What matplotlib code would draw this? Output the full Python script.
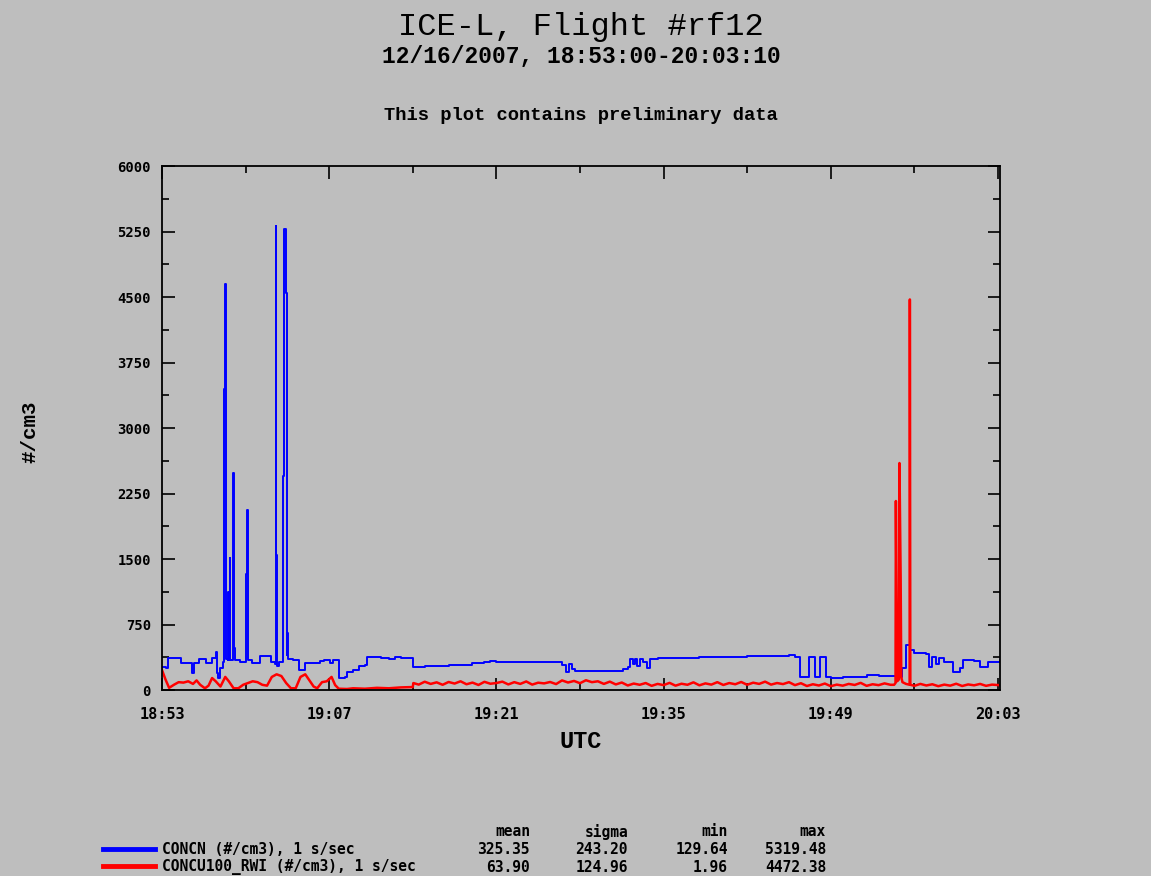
import numpy as np
import matplotlib
matplotlib.use('Agg')
import matplotlib.pyplot as plt
from matplotlib.lines import Line2D
from matplotlib.ticker import MultipleLocator

# minutes after 18:53:00 and concentration (#/cm3)
concn_t = [0.0, 0.3, 0.5, 1.5, 1.6, 2.4, 2.5, 2.7, 3.0, 3.1, 3.6, 3.7, 4.1, 4.2, 4.5, 4.55,
           4.6, 4.7, 4.9, 5.1, 5.2, 5.23, 5.30, 5.36, 5.5, 5.55, 5.6, 5.67, 5.72, 5.95, 5.97,
           6.02, 6.08, 6.5, 7.0, 7.04, 7.14, 7.2, 7.5, 8.0, 8.2, 8.9, 9.1, 9.5, 9.52, 9.57,
           9.63, 9.8, 10.1, 10.16, 10.25, 10.36, 10.45, 10.5, 10.55, 11.0, 11.4, 11.5, 11.9,
           12.0, 13.0, 13.2, 13.6, 14.1, 14.3, 14.6, 14.8, 15.3, 15.5, 16.0, 16.5, 17.0, 17.2,
           18.0, 18.3, 19.0, 19.5, 20.0, 20.8, 21.0, 22.0, 23.0, 24.0, 25.0, 26.0, 27.0, 27.5,
           28.0, 29.0, 30.0, 31.0, 32.0, 33.0, 33.5, 33.8, 34.1, 34.3, 34.6, 36.0, 37.0, 38.0,
           38.6, 39.0, 39.2, 39.4, 39.6, 39.8, 40.0, 40.3, 40.6, 40.9, 41.5, 43.0, 45.0, 47.0,
           49.0, 51.0, 52.5, 53.0, 53.4, 54.0, 54.2, 54.6, 54.7, 55.0, 55.1, 55.4, 55.6, 56.0,
           57.0, 58.0, 59.0, 60.0, 61.5, 62.0, 62.3, 62.6, 63.0, 64.0, 64.2, 64.5, 64.8, 65.1,
           65.5, 66.0, 66.2, 66.8, 67.1, 68.0, 68.5, 69.2, 70.17]
concn_v = [260, 250, 366, 366, 310, 310, 200, 310, 310, 350, 350, 310, 310, 366, 366, 435,
           200, 137, 250, 320, 340, 3450, 4650, 350, 340, 1122, 340, 1511, 340, 360, 2485,
           480, 340, 320, 340, 1328, 2061, 340, 310, 310, 390, 390, 320, 300, 5313, 1546,
           280, 320, 320, 2450, 5278, 4545, 400, 650, 360, 340, 340, 230, 230,
           310, 310, 330, 340, 310, 343, 343, 137, 150, 206, 230, 270, 290, 378,
           378, 366, 360, 378, 366, 366, 263, 270, 275, 286, 290, 309, 320, 332,
           320, 325, 320, 325, 320, 320, 290, 206, 300, 240, 218, 218, 214, 218,
           245, 260, 350, 300, 360, 280, 350, 320, 250, 360, 366, 366, 378, 380,
           385, 390, 400, 380, 150, 150, 378, 378, 150, 150, 378, 378, 150, 137,
           150, 150, 170, 160, 150, 250, 515, 460, 423, 410, 260, 380, 300, 370,
           320, 320, 206, 250, 343, 330, 263, 320, 343]

rwi_t = [0.0, 0.3, 0.6, 1.0, 1.4, 1.8, 2.2, 2.6, 2.9, 3.2, 3.6, 3.9, 4.2, 4.5, 4.9, 5.3,
         5.6, 6.0, 6.4, 6.8, 7.2, 7.6, 8.0, 8.4, 8.8, 9.2, 9.6, 10.0, 10.4, 10.8, 11.2, 11.6,
         12.0, 12.3, 12.7, 13.0, 13.4, 13.8, 14.2, 14.5, 14.8, 15.5, 16.0, 17.0, 18.0, 19.0,
         20.0, 21.0, 21.05, 21.5, 22.0, 22.5, 23.0, 23.5, 24.0, 24.5, 25.0, 25.5, 26.0, 26.5,
         27.0, 27.5, 28.0, 28.5, 29.0, 29.5, 30.0, 30.5, 31.0, 31.5, 32.0, 32.5, 33.0, 33.5,
         34.0, 34.5, 35.0, 35.5, 36.0, 36.5, 37.0, 37.5, 38.0, 38.5, 39.0, 39.5, 40.0, 40.5,
         41.0, 41.5, 42.0, 42.5, 43.0, 43.5, 44.0, 44.5, 45.0, 45.5, 46.0, 46.5, 47.0, 47.5,
         48.0, 48.5, 49.0, 49.5, 50.0, 50.5, 51.0, 51.5, 52.0, 52.5, 53.0, 53.5, 54.0, 54.5,
         55.0, 55.5, 56.0, 56.5, 57.0, 57.5, 58.0, 58.5, 59.0, 59.5, 60.0, 60.5, 61.0, 61.3,
         61.42, 61.45, 61.5, 61.55, 61.7, 61.75, 61.8, 61.85, 61.9, 62.0, 62.3, 62.6, 62.62,
         62.66, 63.0, 63.5, 64.0, 64.5, 65.0, 65.5, 66.0, 66.5, 67.0, 67.5, 68.0, 68.5, 69.0,
         69.5, 70.17]
rwi_v = [230, 120, 25, 60, 90, 85, 100, 70, 110, 60, 20, 50, 137, 100, 40, 150,
         100, 20, 20, 60, 80, 100, 90, 60, 50, 150, 180, 160, 80, 20, 20, 150,
         180, 120, 40, 20, 90, 100, 150, 57, 15, 12, 20, 15, 25, 20,
         30, 34, 80, 62, 95, 70, 88, 60, 92, 74, 100, 66, 85, 58,
         94, 72, 80, 96, 64, 90, 70, 98, 62, 84, 76, 92, 68, 110,
         86, 104, 78, 112, 90, 100, 70, 96, 64, 86, 52, 74, 60, 80,
         48, 70, 56, 82, 50, 72, 60, 88, 54, 76, 62, 90, 58, 80,
         66, 92, 60, 84, 70, 96, 62, 80, 68, 90, 56, 78, 46, 66,
         52, 74, 44, 62, 50, 70, 58, 82, 48, 66, 56, 76, 60, 60,
         80, 2164, 1168, 100, 120, 2599, 1958, 1271, 150, 90, 70, 60, 4472,
         60, 48, 70, 52, 66, 44, 62, 50, 72, 46, 64, 54, 70, 48,
         62, 55]

x_ticks = [0, 14, 28, 42, 56, 70]
x_labels = ['18:53', '19:07', '19:21', '19:35', '19:49', '20:03']

names = ['CONCN (#/cm3), 1 s/sec', 'CONCU100_RWI (#/cm3), 1 s/sec']
stat_cols = ['mean', 'sigma', 'min', 'max']
stats = [['325.35', '243.20', '129.64', '5319.48'],
         ['63.90', '124.96', '1.96', '4472.38']]

bg = '#bebebe'
mono = 'Liberation Mono'
tick_font = 'DejaVu Sans Mono'

fig = plt.figure(figsize=(11.51, 8.76), dpi=100, facecolor=bg)
ax = fig.add_axes([0.1407, 0.2123, 0.7281, 0.5982], facecolor=bg)

ax.plot(concn_t, concn_v, color='#0000ff', lw=1.4, drawstyle='steps-post')
ax.plot(rwi_t, rwi_v, color='#ff0000', lw=1.8)

ax.set_xlim(0, 70.1667)
ax.set_ylim(0, 6000)
ax.set_xticks(x_ticks)
ax.set_xticklabels(x_labels)
ax.xaxis.set_minor_locator(MultipleLocator(7))
ax.yaxis.set_major_locator(MultipleLocator(750))
ax.yaxis.set_minor_locator(MultipleLocator(375))
ax.tick_params(which='both', direction='in', top=True, right=True, width=1.2, colors='black')
ax.tick_params(which='major', length=9)
ax.tick_params(which='minor', length=5)
ax.tick_params(axis='x', pad=12)
ax.tick_params(axis='y', pad=8)
for lab in ax.get_xticklabels():
    lab.set_fontfamily(tick_font)
    lab.set_fontweight('bold')
    lab.set_fontsize(11)
for lab in ax.get_yticklabels():
    lab.set_fontfamily(tick_font)
    lab.set_fontweight('bold')
    lab.set_fontsize(10)
for s in ax.spines.values():
    s.set_linewidth(1.3)

ax.set_xlabel('UTC', fontfamily=mono, fontweight='bold', fontsize=17, labelpad=6)
fig.text(0.026, 0.507, '#/cm3', rotation=90, ha='center', va='center',
         fontfamily=mono, fontweight='bold', fontsize=15)

fig.text(0.505, 0.969, 'ICE-L, Flight #rf12', ha='center', va='center',
         fontfamily=mono, fontsize=23)
fig.text(0.505, 0.936, '12/16/2007, 18:53:00-20:03:10', ha='center', va='center',
         fontfamily=mono, fontweight='bold', fontsize=16.5)
fig.text(0.505, 0.868, 'This plot contains preliminary data', ha='center', va='center',
         fontfamily=mono, fontweight='bold', fontsize=13.5)

# stats table under the plot
col_x = [530, 628, 728, 826]
row_y = [849, 866]
for cx, name in zip(col_x, stat_cols):
    fig.text(cx / 1151, 1 - 832 / 876, name, ha='right', va='center',
             fontfamily=tick_font, fontweight='bold', fontsize=10.5)
for ry, name, color, vals in zip(row_y, names, ['#0000ff', '#ff0000'], stats):
    fig.add_artist(Line2D([103 / 1151, 155 / 1151], [1 - ry / 876, 1 - ry / 876],
                          color=color, lw=3.5, transform=fig.transFigure))
    fig.text(162 / 1151, 1 - (ry + 1) / 876, name, ha='left', va='center',
             fontfamily=tick_font, fontweight='bold', fontsize=10.5)
    for cx, v in zip(col_x, vals):
        fig.text(cx / 1151, 1 - (ry + 1) / 876, v, ha='right', va='center',
                 fontfamily=tick_font, fontweight='bold', fontsize=10.5)

fig.savefig('out.png', dpi=100, facecolor=bg)
